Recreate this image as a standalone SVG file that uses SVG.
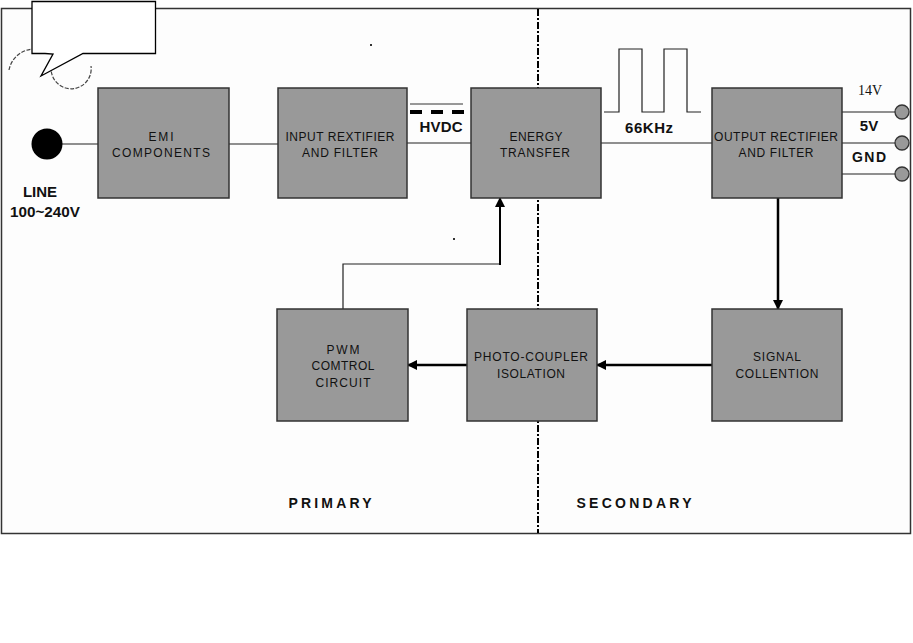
<svg xmlns="http://www.w3.org/2000/svg" width="913" height="643" viewBox="0 0 913 643">
<style>
.box{fill:#999999;stroke:#333333;stroke-width:1.5}
.bt{font-family:"Liberation Sans",Arial,sans-serif;font-size:12px;fill:#111;text-anchor:middle}
.lb{font-family:"Liberation Sans",Arial,sans-serif;font-weight:bold;fill:#111}
.ln{stroke:#222;stroke-width:1.2;fill:none}
.th{stroke:#000;stroke-width:2.5;fill:none}
</style>
<defs>
<marker id="ah" viewBox="0 0 10 10" refX="9" refY="5" markerWidth="4" markerHeight="4" orient="auto" markerUnits="strokeWidth">
<path d="M0,0 L10,5 L0,10 z" fill="#000"/>
</marker>
<marker id="ah2" viewBox="0 0 10 10" refX="9" refY="5" markerWidth="5" markerHeight="5" orient="auto" markerUnits="strokeWidth">
<path d="M0,0 L10,5 L0,10 z" fill="#000"/>
</marker>
</defs>
<rect width="913" height="643" fill="#ffffff"/>
<!-- frame -->
<rect x="1.5" y="8.5" width="909" height="525" fill="#fdfdfd" stroke="#333" stroke-width="1.5"/>
<!-- divider -->
<line x1="538" y1="9" x2="538" y2="533" stroke="#000" stroke-width="2" stroke-dasharray="7,2,2,2"/>
<!-- callout -->
<g id="callout">
<path d="M9,70 A26,26 0 0 1 33,49" fill="none" stroke="#444" stroke-width="1.2" stroke-dasharray="4,1.5"/>
<path d="M51.3,71.5 A20,20 0 0 0 91,66" fill="none" stroke="#444" stroke-width="1.2" stroke-dasharray="4,1.5"/>
<path d="M32,1.5 H155.5 V53.5 H83 L41,76 L53,54 L45,53.5 H32 Z" fill="#fff" stroke="#000" stroke-width="1.3"/>
</g>
<g id="connectors">
<line class="ln" x1="62" y1="144" x2="98" y2="144"/>
<line class="ln" x1="229" y1="144" x2="278" y2="144"/>
<line class="ln" x1="407" y1="143" x2="471" y2="143"/>
<line class="ln" x1="601" y1="143" x2="712" y2="143"/>
<line class="ln" x1="842" y1="112" x2="896" y2="112"/>
<line class="ln" x1="842" y1="143" x2="896" y2="143"/>
<line class="ln" x1="842" y1="174" x2="896" y2="174"/>
<line class="th" x1="778" y1="198" x2="778" y2="309" marker-end="url(#ah)"/>
<line class="th" x1="712" y1="365" x2="597" y2="365" marker-end="url(#ah)"/>
<line class="th" x1="467" y1="365" x2="408" y2="365" marker-end="url(#ah)"/>
<polyline class="ln" points="343,309 343,264 500,264 500,240"/>
<line stroke="#000" stroke-width="2" x1="500" y1="265" x2="500" y2="198" marker-end="url(#ah2)"/>
<!-- HVDC symbol -->
<line x1="410" y1="104" x2="463" y2="104" stroke="#333" stroke-width="1"/>
<line x1="410" y1="112" x2="465" y2="112" stroke="#000" stroke-width="4" stroke-dasharray="12,9"/>
<!-- pulse waveform -->
<polyline class="ln" points="604,112 619,112 619,49 642,49 642,112 664,112 664,49 687,49 687,112 701,112"/>
</g>
<g id="line-in">
<circle cx="47" cy="144" r="15.5" fill="#000"/>
<text class="lb" x="40" y="197" font-size="15" text-anchor="middle">LINE</text>
<text class="lb" x="45" y="217" font-size="15" text-anchor="middle" textLength="70" lengthAdjust="spacingAndGlyphs">100~240V</text>
</g>
<g id="emi">
<rect class="box" x="98" y="88" width="131" height="110"/>
<text class="bt" x="161" y="141" textLength="25" lengthAdjust="spacing">EMI</text>
<text class="bt" x="161" y="157" textLength="98" lengthAdjust="spacing">COMPONENTS</text>
</g>
<g id="input">
<rect class="box" x="278" y="88" width="129" height="110"/>
<text class="bt" x="340" y="141" textLength="109" lengthAdjust="spacing">INPUT REXTIFIER</text>
<text class="bt" x="340" y="157" textLength="76" lengthAdjust="spacing">AND FILTER</text>
</g>
<g id="energy">
<rect class="box" x="471" y="88" width="130" height="110"/>
<text class="bt" x="536" y="141" textLength="53" lengthAdjust="spacing">ENERGY</text>
<text class="bt" x="535" y="157" textLength="70" lengthAdjust="spacing">TRANSFER</text>
</g>
<g id="output">
<rect class="box" x="712" y="88" width="130" height="110"/>
<text class="bt" x="776" y="141" textLength="124" lengthAdjust="spacing">OUTPUT RECTIFIER</text>
<text class="bt" x="776" y="157" textLength="75" lengthAdjust="spacing">AND FILTER</text>
</g>
<g id="pwm">
<rect class="box" x="277" y="309" width="131" height="112"/>
<text class="bt" x="343" y="354" textLength="33" lengthAdjust="spacing">PWM</text>
<text class="bt" x="343" y="370" textLength="63" lengthAdjust="spacing">COMTROL</text>
<text class="bt" x="343" y="387" textLength="55" lengthAdjust="spacing">CIRCUIT</text>
</g>
<g id="photo">
<rect class="box" x="467" y="309" width="130" height="112"/>
<text class="bt" x="531" y="361" textLength="114" lengthAdjust="spacing">PHOTO-COUPLER</text>
<text class="bt" x="531" y="378" textLength="68" lengthAdjust="spacing">ISOLATION</text>
</g>
<g id="signal">
<rect class="box" x="712" y="309" width="130" height="112"/>
<text class="bt" x="777" y="361" textLength="48" lengthAdjust="spacing">SIGNAL</text>
<text class="bt" x="777" y="378" textLength="83" lengthAdjust="spacing">COLLENTION</text>
</g>
<g id="terminals">
<circle cx="902" cy="112" r="7" fill="#999" stroke="#333" stroke-width="1.3"/>
<circle cx="902" cy="143" r="7" fill="#999" stroke="#333" stroke-width="1.3"/>
<circle cx="902" cy="174" r="7" fill="#999" stroke="#333" stroke-width="1.3"/>
<text x="870" y="95" font-family="'Liberation Serif','Times New Roman',serif" font-size="14" fill="#111" text-anchor="middle">14V</text>
<text class="lb" x="869" y="131" font-size="15" text-anchor="middle">5V</text>
<text class="lb" x="869" y="162" font-size="14" text-anchor="middle" textLength="34" lengthAdjust="spacing">GND</text>
</g>
<g id="labels">
<text class="lb" x="441" y="132" font-size="15" text-anchor="middle" textLength="43" lengthAdjust="spacing">HVDC</text>
<text class="lb" x="649" y="133" font-size="15" text-anchor="middle" textLength="48" lengthAdjust="spacing">66KHz</text>
<text class="lb" x="330" y="508" font-size="14" text-anchor="middle" textLength="83" lengthAdjust="spacing">PRIMARY</text>
<text class="lb" x="634" y="508" font-size="14" text-anchor="middle" textLength="115" lengthAdjust="spacing">SECONDARY</text>
</g>
<rect x="370" y="44" width="2" height="2" fill="#333"/>
<rect x="453" y="238" width="2" height="2" fill="#333"/>
</svg>
